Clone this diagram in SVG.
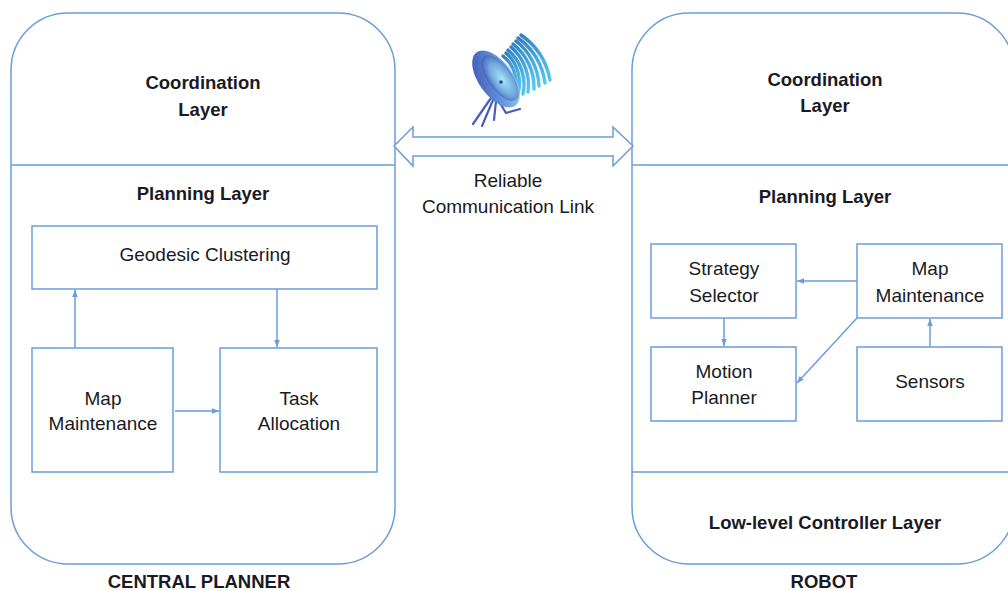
<svg xmlns="http://www.w3.org/2000/svg" width="1008" height="591" viewBox="0 0 1008 591">
  <defs>
    <style>
      .panel { fill: #ffffff; stroke: #6a9ed8; stroke-width: 1.5; }
      .div { stroke: #6a9ed8; stroke-width: 1.5; fill: none; }
      .box { fill: #ffffff; stroke: #6a9ed8; stroke-width: 1.5; }
      .conn { stroke: #6a9ed8; stroke-width: 1.5; fill: none; marker-end: url(#head); }
      .hd { font-family: "Liberation Sans", Arial, sans-serif; font-weight: bold; font-size: 18.5px; fill: #1a1a24; text-anchor: middle; }
      .lb { font-family: "Liberation Sans", Arial, sans-serif; font-size: 19px; fill: #1a1a24; text-anchor: middle; }
    </style>
    <marker id="head" viewBox="0 0 10 10" refX="10" refY="5" markerWidth="7" markerHeight="7" orient="auto" markerUnits="userSpaceOnUse">
      <path d="M0,1 L10,5 L0,9 Z" fill="#6a9ed8"/>
    </marker>
    <linearGradient id="dishGrad" x1="0" y1="0" x2="1" y2="1">
      <stop offset="0" stop-color="#3b4db3"/>
      <stop offset="0.5" stop-color="#5f8fd6"/>
      <stop offset="1" stop-color="#9fe0f4"/>
    </linearGradient>
    <radialGradient id="dishInner" cx="0.55" cy="0.55" r="0.6">
      <stop offset="0" stop-color="#a8e6f6"/>
      <stop offset="0.6" stop-color="#6fa6de"/>
      <stop offset="1" stop-color="#4456b8"/>
    </radialGradient>
    <linearGradient id="waveGrad" x1="0" y1="0" x2="1" y2="1">
      <stop offset="0" stop-color="#2f7fc6"/>
      <stop offset="1" stop-color="#58c6ea"/>
    </linearGradient>
  </defs>

  <!-- Central planner panel -->
  <g id="central-planner">
    <rect class="panel" x="11" y="13" width="384" height="551" rx="57" ry="57"/>
    <line class="div" x1="11" y1="165" x2="395" y2="165"/>
    <text class="hd" x="203" y="89">Coordination</text>
    <text class="hd" x="203" y="116">Layer</text>
    <text class="hd" x="203" y="200">Planning Layer</text>
    <text class="hd" x="199" y="588">CENTRAL PLANNER</text>
  </g>

  <!-- Robot panel -->
  <g id="robot">
    <rect class="panel" x="632" y="13" width="382" height="551" rx="57" ry="57"/>
    <line class="div" x1="632" y1="165" x2="1014" y2="165"/>
    <line class="div" x1="632" y1="472" x2="1014" y2="472"/>
    <text class="hd" x="825" y="86">Coordination</text>
    <text class="hd" x="825" y="112">Layer</text>
    <text class="hd" x="825" y="203">Planning Layer</text>
    <text class="hd" x="825" y="529">Low-level Controller Layer</text>
    <text class="hd" x="824" y="588">ROBOT</text>
  </g>

  <!-- Central planner modules -->
  <g id="cp-geodesic">
    <rect class="box" x="32" y="226" width="345" height="63"/>
    <text class="lb" x="205" y="261">Geodesic Clustering</text>
  </g>
  <g id="cp-map">
    <rect class="box" x="32" y="348" width="141" height="124"/>
    <text class="lb" x="103" y="405">Map</text>
    <text class="lb" x="103" y="430">Maintenance</text>
  </g>
  <g id="cp-task">
    <rect class="box" x="220" y="348" width="157" height="124"/>
    <text class="lb" x="299" y="405">Task</text>
    <text class="lb" x="299" y="430">Allocation</text>
  </g>

  <!-- Robot modules -->
  <g id="rb-strategy">
    <rect class="box" x="651" y="244" width="145" height="74"/>
    <text class="lb" x="724" y="275">Strategy</text>
    <text class="lb" x="724" y="302">Selector</text>
  </g>
  <g id="rb-map">
    <rect class="box" x="857" y="244" width="145" height="74"/>
    <text class="lb" x="930" y="275">Map</text>
    <text class="lb" x="930" y="302">Maintenance</text>
  </g>
  <g id="rb-motion">
    <rect class="box" x="651" y="347" width="145" height="74"/>
    <text class="lb" x="724" y="378">Motion</text>
    <text class="lb" x="724" y="404">Planner</text>
  </g>
  <g id="rb-sensors">
    <rect class="box" x="857" y="347" width="145" height="74"/>
    <text class="lb" x="930" y="388">Sensors</text>
  </g>

  <!-- Connectors -->
  <g id="connectors">
    <line class="conn" x1="75" y1="348" x2="75" y2="290"/>
    <line class="conn" x1="277" y1="289" x2="277" y2="347"/>
    <line class="conn" x1="175" y1="411" x2="219" y2="411"/>
    <line class="conn" x1="857" y1="281" x2="797" y2="281"/>
    <line class="conn" x1="724" y1="318" x2="724" y2="346"/>
    <line class="conn" x1="857" y1="318" x2="797" y2="383"/>
    <line class="conn" x1="930" y1="347" x2="930" y2="319"/>
    <!-- two-way link between the panels -->
    <path d="M394,146 L413,127 L413,137 L613,137 L613,127 L633,146 L613,166 L613,156 L413,156 L413,166 Z" fill="#ffffff" stroke="#6a9ed8" stroke-width="1.5" stroke-linejoin="miter"/>
  </g>

  <!-- Link label -->
  <g id="link-label">
    <text class="lb" x="508" y="187">Reliable</text>
    <text class="lb" x="508" y="213">Communication Link</text>
  </g>

  <!-- Satellite dish icon -->
  <g id="dish-icon">
    <g fill="none" stroke="url(#waveGrad)" stroke-width="3.4" stroke-linecap="round">
      <path d="M503,56 A35,35 0 0 1 512,100"/>
      <path d="M506,53 A40,40 0 0 1 517,97"/>
      <path d="M508,50 A45,45 0 0 1 523,94"/>
      <path d="M511,47 A50,50 0 0 1 528,92"/>
      <path d="M513,44 A55,55 0 0 1 534,89"/>
      <path d="M516,41 A60,60 0 0 1 539,86"/>
      <path d="M518,38 A65,65 0 0 1 545,83"/>
      <path d="M521,35 A70,70 0 0 1 550,80"/>
    </g>
    <g stroke="#4a5cc0" stroke-width="2.2" stroke-linecap="round">
      <line x1="491" y1="98" x2="473" y2="124"/>
      <line x1="493" y1="100" x2="482" y2="126"/>
      <line x1="496" y1="101" x2="494" y2="120"/>
      <polyline points="500,103 506,113 520,109" fill="none"/>
    </g>
    <ellipse cx="496" cy="79" rx="17" ry="33" transform="rotate(-36 496 79)" fill="url(#dishGrad)"/>
    <ellipse cx="500" cy="78" rx="12" ry="27" transform="rotate(-36 500 78)" fill="url(#dishInner)"/>
    <circle cx="501" cy="82" r="1.8" fill="#2f3f9e"/>
  </g>
</svg>
